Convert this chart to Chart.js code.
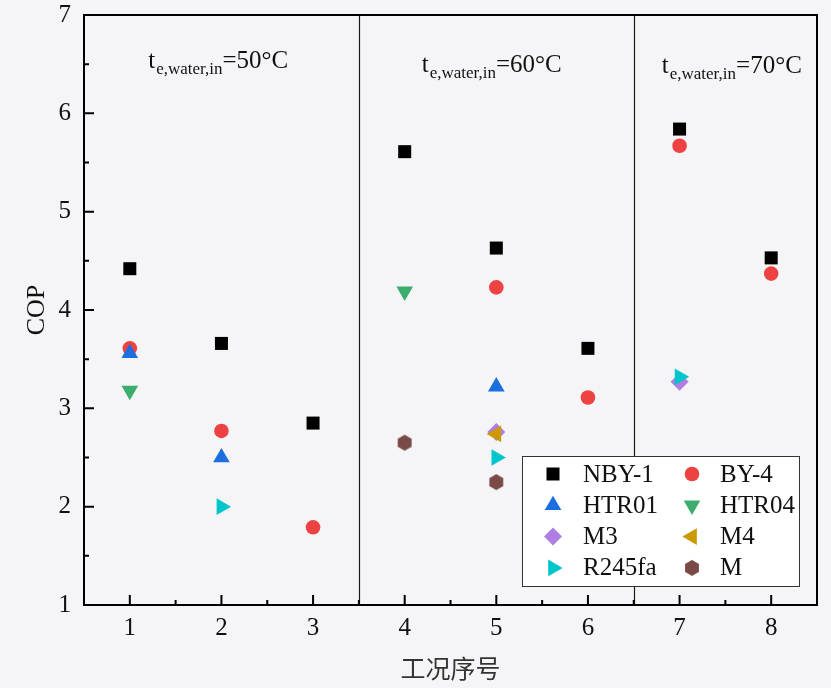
<!DOCTYPE html>
<html>
<head>
<meta charset="utf-8">
<script src="https://cdn.jsdelivr.net/npm/chart.js@4.4.0/dist/chart.umd.min.js"></script>
<style>
  html, body { margin: 0; padding: 0; background: #f5f5f7; }
  #wrap { width: 831px; height: 688px; }
</style>
</head>
<body>
<div id="wrap"><canvas id="copChart" width="831" height="688"></canvas></div>
<script>
// working-condition numbers and COP values
const categories = [1, 2, 3, 4, 5, 6, 7, 8];
const yTicks = [1, 2, 3, 4, 5, 6, 7];
const seriesNames = ['NBY-1', 'BY-4', 'HTR01', 'HTR04', 'M3', 'M4', 'R245fa', 'M'];

const nby1   = [4.42, 3.66, 2.85, 5.61, 4.63, 3.61, 5.84, 4.53];
const by4    = [3.61, 2.77, 1.79, null, 4.23, 3.11, 5.67, 4.37];
const htr01  = [3.56, 2.50, null, null, 3.22, null, null, null];
const htr04  = [3.18, null, null, 4.19, null, null, null, null];
const m3     = [null, null, null, null, 2.76, null, 3.27, null];
const m4     = [null, null, null, null, 2.74, null, null, null];
const r245fa = [null, 2.00, null, null, 2.50, null, 3.32, null];
const mMix   = [null, null, null, 2.65, 2.25, null, null, null];

const dividers = [3.5, 6.5];
const groupTemps = ['=50°C', '=60°C', '=70°C'];

// where the group captions sit (data units)
const captionX = [1.965, 4.95, 7.57];
const captionY = [6.46, 6.42, 6.41];

const serif = '"Liberation Serif", "Times New Roman", serif';
const textColor = '#111111';

function makeHexagon(color, r) {
  const c = document.createElement('canvas');
  const s = Math.ceil(r * 2 + 2);
  c.width = s;
  c.height = s;
  const g = c.getContext('2d');
  g.fillStyle = color;
  g.beginPath();
  for (let i = 0; i < 6; i++) {
    const a = Math.PI / 3 * i - Math.PI / 2;
    const px = s / 2 + r * Math.cos(a);
    const py = s / 2 + r * Math.sin(a);
    if (i === 0) g.moveTo(px, py); else g.lineTo(px, py);
  }
  g.closePath();
  g.fill();
  return c;
}

const markers = [
  { color: '#000000', pointStyle: 'rect', radius: 9.2, rotation: 0 },
  { color: '#ee4242', pointStyle: 'circle', radius: 7.3, rotation: 0 },
  { color: '#1b6fdf', pointStyle: 'triangle', radius: 9.6, rotation: 0 },
  { color: '#3bad6c', pointStyle: 'triangle', radius: 9.6, rotation: 180 },
  { color: '#b07de0', pointStyle: 'rectRot', radius: 9, rotation: 0 },
  { color: '#cc9900', pointStyle: 'triangle', radius: 9.6, rotation: -90 },
  { color: '#00c6cc', pointStyle: 'triangle', radius: 9.6, rotation: 90 },
  { color: '#7a4a48', pointStyle: makeHexagon('#7a4a48', 8), radius: 8, rotation: 0 }
];

const allSeries = [nby1, by4, htr01, htr04, m3, m4, r245fa, mMix];

const datasets = allSeries.map((values, i) => ({
  label: seriesNames[i],
  data: categories
    .map((c, j) => ({ x: c, y: values[j] }))
    .filter((p) => p.y !== null),
  pointStyle: markers[i].pointStyle,
  pointRotation: markers[i].rotation,
  pointRadius: markers[i].radius,
  pointHoverRadius: markers[i].radius,
  pointBackgroundColor: markers[i].color,
  pointBorderWidth: 0,
  order: allSeries.length - i
}));

function drawCaption(ctx, cx, baseY, tail) {
  const mainFont = '25px ' + serif;
  const subFont = '17px ' + serif;
  ctx.font = mainFont;
  const wT = ctx.measureText('t').width;
  const wTail = ctx.measureText(tail).width;
  ctx.font = subFont;
  const wSub = ctx.measureText('e,water,in').width;
  const gap = 1;
  const x0 = cx - (wT + gap + wSub + wTail) / 2;
  ctx.fillStyle = textColor;
  ctx.textAlign = 'left';
  ctx.textBaseline = 'alphabetic';
  ctx.font = mainFont;
  ctx.fillText('t', x0, baseY);
  ctx.font = subFont;
  ctx.fillText('e,water,in', x0 + wT + gap, baseY + 6);
  ctx.font = mainFont;
  ctx.fillText(tail, x0 + wT + gap + wSub, baseY);
}

const framePlugin = {
  id: 'frame',
  beforeDatasetsDraw(chart) {
    const { ctx, chartArea: a, scales: { x, y } } = chart;
    ctx.save();
    ctx.strokeStyle = '#1a1a1a';
    ctx.lineWidth = 1.2;
    dividers.forEach((v) => {
      const px = Math.round(x.getPixelForValue(v)) + 0.5;
      ctx.beginPath();
      ctx.moveTo(px, a.top);
      ctx.lineTo(px, a.bottom);
      ctx.stroke();
    });
    groupTemps.forEach((t, i) => {
      drawCaption(ctx, x.getPixelForValue(captionX[i]), y.getPixelForValue(captionY[i]), t);
    });
    ctx.restore();
  },
  afterDatasetsDraw(chart) {
    const { ctx, chartArea: a, scales: { x, y } } = chart;
    ctx.save();
    ctx.strokeStyle = '#000000';
    ctx.lineWidth = 2;
    ctx.strokeRect(a.left, a.top, a.right - a.left, a.bottom - a.top);

    ctx.lineWidth = 2;
    ctx.beginPath();
    yTicks.forEach((v, i) => {
      const py = y.getPixelForValue(v);
      ctx.moveTo(a.left, py);
      ctx.lineTo(a.left + 10, py);
      if (i < yTicks.length - 1) {
        const pm = y.getPixelForValue(v + 0.5);
        ctx.moveTo(a.left, pm);
        ctx.lineTo(a.left + 5, pm);
      }
    });
    categories.forEach((v, i) => {
      const px = x.getPixelForValue(v);
      ctx.moveTo(px, a.bottom);
      ctx.lineTo(px, a.bottom - 10);
      if (i < categories.length - 1) {
        const pm = x.getPixelForValue(v + 0.5);
        ctx.moveTo(pm, a.bottom);
        ctx.lineTo(pm, a.bottom - 5);
      }
    });
    ctx.stroke();
    ctx.restore();
  },
  afterDraw(chart) {
    const { ctx, chartArea: a } = chart;
    const left = a.right - 295;
    const top = a.bottom - 149;
    ctx.save();
    ctx.fillStyle = '#ffffff';
    ctx.fillRect(left, top, 277, 130);
    ctx.strokeStyle = '#333333';
    ctx.lineWidth = 1;
    ctx.strokeRect(left + 0.5, top + 0.5, 277, 130);
    ctx.font = '25px ' + serif;
    ctx.textAlign = 'left';
    ctx.textBaseline = 'middle';
    seriesNames.forEach((name, i) => {
      const col = i % 2;
      const row = Math.floor(i / 2);
      const cy = top + 18 + row * 31.3;
      const mx = left + (col ? 170 : 31);
      const tx = left + (col ? 198 : 61);
      const m = markers[i];
      ctx.fillStyle = m.color;
      Chart.helpers.drawPoint(ctx, {
        pointStyle: m.pointStyle,
        rotation: m.rotation,
        radius: m.radius,
        borderWidth: 0
      }, mx, cy);
      ctx.fillStyle = textColor;
      ctx.fillText(name, tx, cy + 1);
    });
    ctx.restore();
  }
};

new Chart(document.getElementById('copChart'), {
  type: 'scatter',
  data: { datasets },
  options: {
    responsive: false,
    animation: false,
    layout: { padding: { top: 15, right: 14, left: 0, bottom: 0 } },
    plugins: {
      legend: { display: false },
      tooltip: { enabled: false }
    },
    scales: {
      x: {
        type: 'linear',
        min: 0.5,
        max: 8.5,
        afterBuildTicks: (s) => { s.ticks = categories.map((v) => ({ value: v })); },
        afterFit: (s) => { s.height = 83; s.paddingLeft = 0; s.paddingRight = 0; },
        grid: { display: false, drawTicks: false },
        border: { display: false },
        ticks: { color: textColor, font: { family: serif, size: 25 }, padding: 8 },
        title: {
          display: true,
          text: '工况序号',
          color: '#333333',
          font: { family: '"Noto Sans CJK SC", sans-serif', size: 25 },
          padding: { top: 0, bottom: 5 }
        }
      },
      y: {
        min: 1,
        max: 7,
        afterBuildTicks: (s) => { s.ticks = yTicks.map((v) => ({ value: v })); },
        afterFit: (s) => { s.width = 84; s.paddingTop = 0; s.paddingBottom = 0; },
        grid: { display: false, drawTicks: false },
        border: { display: false },
        ticks: { color: textColor, font: { family: serif, size: 25 }, padding: 13 },
        title: {
          display: true,
          text: 'COP',
          color: textColor,
          font: { family: serif, size: 26 },
          padding: { top: 22, bottom: 0 }
        }
      }
    }
  },
  plugins: [framePlugin]
});
</script>
</body>
</html>
